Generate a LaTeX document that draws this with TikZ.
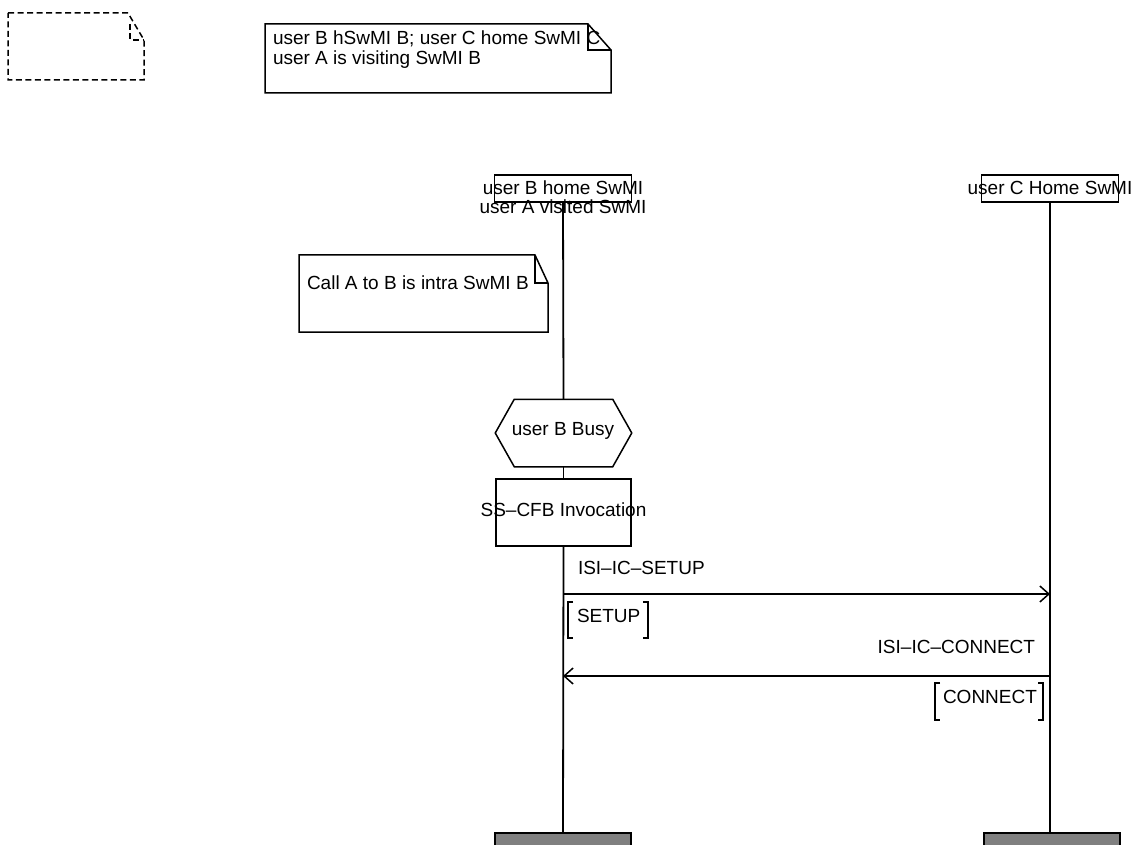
\documentclass[tikz,border=0pt]{standalone}
\usepackage{fontspec}
\setmainfont{Liberation Sans}
\usetikzlibrary{arrows.meta,calc}
\begin{document}
\begin{tikzpicture}[x=1pt,y=-1pt,line width=1.5pt,
  font=\fontsize{19}{21}\selectfont,
  txt/.style={inner sep=0pt,outer sep=0pt},
  hdrbox/.style={draw,minimum width=137pt,minimum height=27pt,inner sep=0pt},
  endbox/.style={draw,fill=black!50,minimum width=136pt,minimum height=26pt,inner sep=0pt},
  lifeline/.style={line width=1.8pt},
  msg/.style={line width=1.5pt,-{Straight Barb[length=9pt,width=16pt,line width=1.5pt]}},
  notebox/.style={line width=1.5pt}]
\useasboundingbox (0,0) rectangle (1136,845);

% dashed empty note
\draw[notebox,dash pattern=on 6pt off 3.5pt] (8,13) -- (128,13) -- (144,40) -- (144,80) -- (8,80) -- cycle;
\draw[notebox,dash pattern=on 6pt off 3.5pt] (130,24) -- (130,40) -- (144,40);

% note 1
\draw[notebox] (265,24) -- (588,24) -- (611,50) -- (611,93) -- (265,93) -- cycle;
\draw[notebox,line width=1.2pt] (588,24) -- (588,50) -- (611,50);
\node[txt,anchor=base west] (n1a) at (273,45) {user B hSwMI B; user C home SwMI C};
\node[txt,anchor=base west] (n1b) at (273,65) {user A is visiting SwMI B};

% lifeline headers
\node[hdrbox] (hB) at (563,188.5) {};
\node[txt,anchor=base] (hBt1) at (563,195) {user B home SwMI};
\node[txt,anchor=base] (hBt2) at (563,214) {user A visited SwMI};
\node[hdrbox] (hC) at (1050,188.5) {};
\node[txt,anchor=base] (hCt) at (1050,195) {user C Home SwMI};

% note 2
\draw[notebox] (299,255) -- (535,255) -- (548,283) -- (548,332) -- (299,332) -- cycle;
\draw[notebox,line width=1.2pt] (535,255) -- (535,283) -- (548,283);
\node[txt,anchor=base west] (n2) at (307,290) {Call A to B is intra SwMI B};

% condition hexagon
\node[minimum width=135pt,minimum height=66pt,inner sep=0pt] (busy) at (563.5,433) {};
\draw ($(busy.north west)+(19,0)$) -- ($(busy.north east)+(-19,0)$) -- (busy.east)
  -- ($(busy.south east)+(-19,0)$) -- ($(busy.south west)+(19,0)$) -- (busy.west) -- cycle;
\node[txt,anchor=base] (busyt) at (563,435) {user B Busy};

% action box
\node[draw,minimum width=135pt,minimum height=67pt,inner sep=0pt] (inv) at (563.5,512.5) {};
\node[txt,anchor=base] (invt) at (563.5,516.5) {SS–CFB Invocation};

% end boxes
\node[endbox] (endB) at (563,846) {};
\node[endbox] (endC) at (1052,846) {};

% lifelines
\draw[lifeline] (hB.south) -- (busy.north);
\draw[lifeline] (busy.south) -- (inv.north);
\draw[lifeline] (inv.south) -- (endB.north -| hB.south);
\draw[lifeline] (hC.south) -- (endC.north -| hC.south);

% messages
\coordinate (s1) at (563,594);
\coordinate (s2) at (1050,594);
\draw[msg] (s1) -- (s2);
\node[txt,anchor=base west] (l1) at (578,574) {ISI–IC–SETUP};
\node[txt,anchor=base west] (p1) at (577,622) {SETUP};
\draw[line width=1.5pt] (573,602) -- (568,602) -- (568,638) -- (573,638);
\draw[line width=1.5pt] (643,602) -- (648,602) -- (648,638) -- (643,638);

\coordinate (c1) at (1050,676);
\coordinate (c2) at (563,676);
\draw[msg] (c1) -- (c2);
\node[txt,anchor=base east] (l2) at (1035,653) {ISI–IC–CONNECT};
\node[txt,anchor=base west] (p2) at (943,703) {CONNECT};
\draw[line width=1.5pt] (940,683) -- (935,683) -- (935,720) -- (940,720);
\draw[line width=1.5pt] (1038,683) -- (1043,683) -- (1043,720) -- (1038,720);
\end{tikzpicture}
\end{document}
